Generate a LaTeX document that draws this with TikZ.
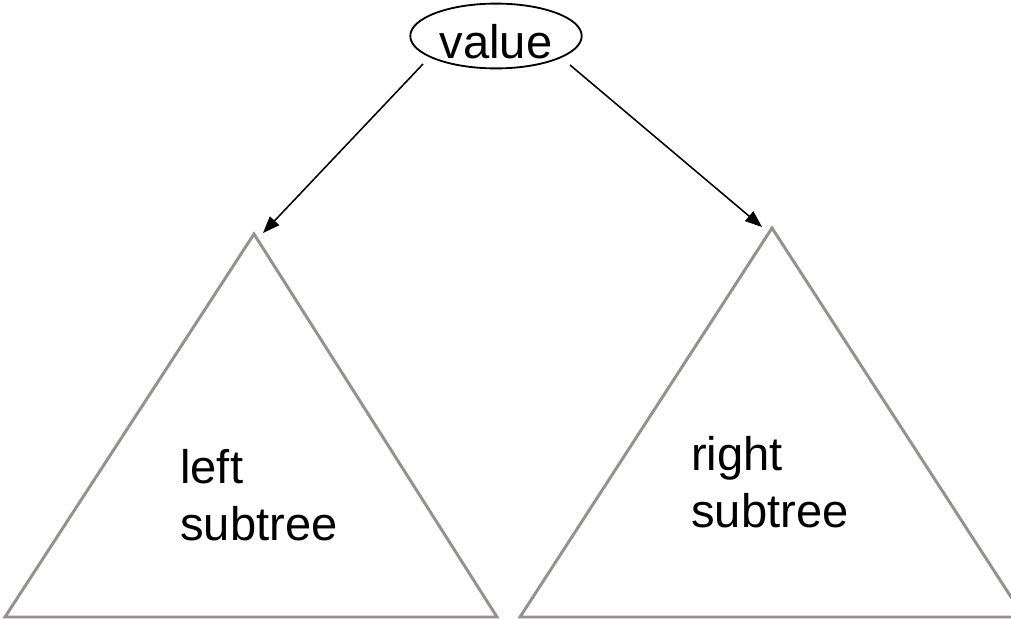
\documentclass[tikz,border=0pt]{standalone}
\usepackage{fontspec}
\setmainfont{Liberation Sans}
\usetikzlibrary{shapes.geometric,arrows.meta}
\definecolor{treegray}{RGB}{152,143,143}
\tikzset{
	subtree/.style={draw=treegray, line width=2.1pt},
	arr/.style={-{Triangle[length=12pt,width=9pt]}, line width=1.1pt},
	lbl/.style={font=\fontsize{33.5}{40}\selectfont, align=left, inner sep=0pt, anchor=base west}
}

\begin{document}
\begin{tikzpicture}[x=0.025cm, y=-0.025cm]
	\useasboundingbox (0,0) rectangle (1011,619);
	% root of the tree
	\node [draw, ellipse, line width=1.3pt, minimum width=121.9pt, minimum height=43.9pt, inner sep=0pt, text height=32.6pt, text depth=0pt, font=\fontsize{33.5}{40}\selectfont] (value) at (496,36) {value};
	
	% the two subtrees
	\draw [subtree] (254,234) -- (497,617) -- (5,617) -- cycle;
	\draw [subtree] (772,228) -- (1024,617) -- (520,617) -- cycle;
	\node [lbl] (lefttext) at (180,540) {left\\subtree};
	\node [lbl] (righttext) at (691,527) {right\\subtree};
	
	% edges down to the subtrees
	\coordinate (lfrom) at (423,64);
	\coordinate (lto) at (263,233);
	\coordinate (rfrom) at (570,65);
	\coordinate (rto) at (762,227);
	\draw [arr] (lfrom) -- (lto);
	\draw [arr] (rfrom) -- (rto);
\end{tikzpicture}
\end{document}
